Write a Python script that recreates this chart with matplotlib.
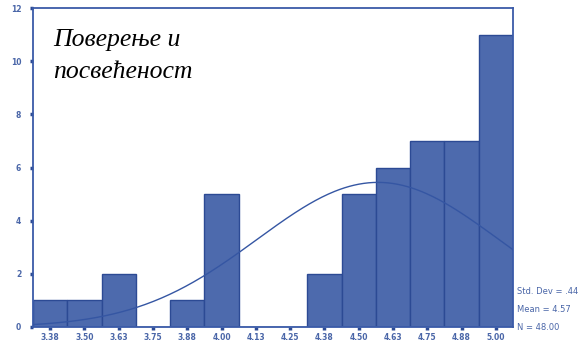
import numpy as np
import matplotlib
matplotlib.use("Agg")
import matplotlib.pyplot as plt

# Histogram of scores (bin centres and counts)
bin_labels = ["3.38", "3.50", "3.63", "3.75", "3.88", "4.00", "4.13",
              "4.25", "4.38", "4.50", "4.63", "4.75", "4.88", "5.00"]
counts = [1, 1, 2, 0, 1, 5, 0, 0, 2, 5, 6, 7, 7, 11]
bin_width = 0.125
first_center = 3.375

# Summary statistics
std_dev = 0.44
mean = 4.57
n_total = 48

centers = first_center + bin_width * np.arange(len(counts))

bar_color = "#4d6aad"
edge_color = "#2c4a94"
text_color = "#4a66a8"

fig = plt.figure(figsize=(5.79, 3.42), dpi=100)
ax = fig.add_axes([33 / 579, 1 - 327 / 342, (513 - 33) / 579, (327 - 8) / 342])

ax.bar(centers, counts, width=bin_width, color=bar_color,
       edgecolor=edge_color, linewidth=1.0, zorder=2)

# Fitted normal curve scaled to the histogram
xs = np.linspace(centers[0] - bin_width / 2, centers[-1] + bin_width / 2, 300)
pdf = np.exp(-0.5 * ((xs - mean) / std_dev) ** 2) / (std_dev * np.sqrt(2 * np.pi))
ax.plot(xs, n_total * bin_width * pdf, color="#3556a3", linewidth=1.0, zorder=3)

ax.set_xlim(centers[0] - bin_width / 2, centers[-1] + bin_width / 2)
ax.set_ylim(0, 12)
ax.set_xticks(centers)
ax.set_xticklabels(bin_labels)
ax.set_yticks([0, 2, 4, 6, 8, 10, 12])

for side in ["left", "bottom", "right", "top"]:
    ax.spines[side].set_color("#3a5ba8")
    ax.spines[side].set_linewidth(1.3)

ax.tick_params(axis="both", direction="out", length=2.5, width=2.5,
               color="#2c4a94", labelcolor=text_color, labelsize=5.5)
ax.tick_params(axis="x", pad=1.5)
ax.tick_params(axis="y", pad=6)
for lbl in ax.get_xticklabels() + ax.get_yticklabels():
    lbl.set_fontweight("bold")

fig.text(53 / 579, 1 - 40 / 342, "Поверење и", family="Liberation Serif",
         style="italic", fontsize=18.5, color="black", va="center", ha="left")
fig.text(53 / 579, 1 - 72 / 342, "посвећеност", family="Liberation Serif",
         style="italic", fontsize=18.5, color="black", va="center", ha="left")

stats = [f"Std. Dev = {std_dev:.2f}".replace("0.", "."),
         f"Mean = {mean:.2f}",
         f"N = {n_total:.2f}"]
for i, s in enumerate(stats):
    fig.text(517 / 579, 1 - (291 + i * 18) / 342, s, fontsize=6,
             color=text_color, va="center", ha="left")

fig.savefig("out.png", dpi=100)
